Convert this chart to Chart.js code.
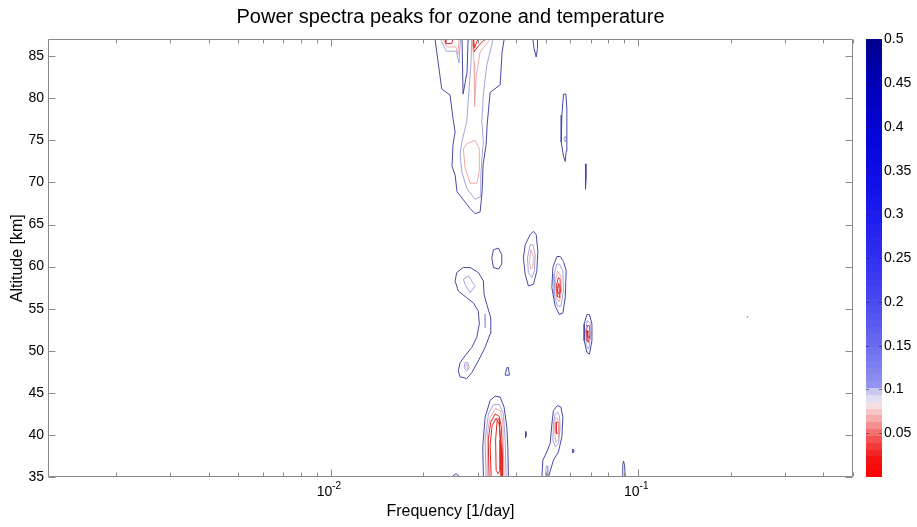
<!DOCTYPE html>
<html>
<head>
<meta charset="utf-8">
<title>Power spectra peaks for ozone and temperature</title>
<script src="https://cdn.jsdelivr.net/npm/chart.js@4.4.1/dist/chart.umd.min.js"></script>
<style>
  html, body { margin: 0; padding: 0; background: #fff; }
</style>
</head>
<body>
<canvas id="spectra" width="917" height="527"></canvas>
<script>
// axis ticks
const freqTicks = [0.01, 0.1];
const altTicks = [35, 40, 45, 50, 55, 60, 65, 70, 75, 80, 85];
const scaleTicks = [0.05, 0.1, 0.15, 0.2, 0.25, 0.3, 0.35, 0.4, 0.45, 0.5];

// contour outlines, points are [frequency (1/day), altitude (km)]
// upper band, 66-87 km
const upperOuter = [[0.02182, 87], [0.02294, 81.1], [0.02441, 80.4], [0.02496, 77.6], [0.02535, 76.0], [0.02496, 74.5], [0.02478, 71.9], [0.02535, 70.9], [0.02573, 68.9], [0.02837, 66.9], [0.02945, 66.3], [0.03058, 66.5], [0.03104, 68.9], [0.03127, 72.1], [0.03199, 74.5], [0.03223, 76.8], [0.03296, 80.7], [0.03553, 81.6], [0.03606, 85.5], [0.03661, 87]];
const upperNotch = [[0.02671, 87], [0.02691, 80.5], [0.02773, 83.1], [0.02795, 87]];
const upperInner = [[0.02874, 87], [0.02852, 83.9], [0.02800, 79.9], [0.02766, 77.2], [0.02665, 74.8], [0.02632, 73.3], [0.02665, 71.3], [0.02766, 69.3], [0.02945, 68.0], [0.03058, 68.3], [0.03074, 70.5], [0.03097, 72.8], [0.03135, 74.8], [0.03097, 77.2], [0.03135, 80.6], [0.03215, 83.9], [0.03335, 86.3], [0.03366, 87]];
const upperPinkLoop = [[0.02766, 74.6], [0.02698, 74.0], [0.02732, 71.7], [0.02837, 69.9], [0.02983, 69.9], [0.03039, 71.3], [0.03039, 74.0], [0.02945, 75.0]];
const upperPinkTongue = [[0.02880, 87], [0.02923, 84.3], [0.02934, 79.0], [0.02967, 82.5], [0.03058, 85.5], [0.03247, 86.7], [0.03296, 87]];
const upperRedRight = [[0.02901, 87], [0.02923, 85.5], [0.03012, 86.2], [0.03151, 86.9], [0.03199, 87]];
const upperRedRight2 = [[0.02912, 87], [0.02934, 86.0], [0.02990, 86.8], [0.03012, 87]];
const upperLeftInner = [[0.02276, 87], [0.02370, 85.6], [0.02560, 85.6], [0.02610, 84.2], [0.02640, 87]];
const upperLeftPink = [[0.02320, 87], [0.02382, 86.1], [0.02550, 86.1], [0.02590, 85.2], [0.02610, 87]];
const upperLeftRed = [[0.02352, 87], [0.02365, 86.5], [0.02470, 86.5], [0.02496, 87]];
const topSpike = [[0.04540, 87], [0.04584, 85.9], [0.04655, 84.9], [0.04700, 85.9], [0.04700, 87]];

// isolated features 69-81 km
const loop77 = [[0.05713, 80.5], [0.05644, 78.0], [0.05615, 74.8], [0.05713, 73.1], [0.05786, 72.5], [0.05829, 73.7], [0.05858, 76.0], [0.05858, 78.8], [0.05816, 80.5]];
const loop77Inner = [[0.05786, 75.5], [0.05743, 75.1], [0.05786, 74.8], [0.05829, 75.1]];
const streak71 = [[0.06738, 72.2], [0.06723, 70.7], [0.06748, 69.2], [0.06775, 70.7], [0.06773, 72.2]];

// middle peaks, 46-64 km
const blob61 = [[0.03378, 62.0], [0.03338, 61.0], [0.03378, 59.9], [0.03507, 59.7], [0.03598, 60.3], [0.03598, 61.4], [0.03507, 62.2]];
const peak61Outer = [[0.04450, 63.8], [0.04286, 62.6], [0.04230, 61.0], [0.04286, 59.1], [0.04392, 57.7], [0.04560, 57.9], [0.04679, 59.5], [0.04714, 61.8], [0.04655, 63.8], [0.04560, 64.2]];
const peak61Inner = [[0.04450, 62.6], [0.04360, 61.0], [0.04392, 59.3], [0.04507, 58.7], [0.04594, 59.5], [0.04620, 61.4], [0.04540, 62.6]];
const peak61Pink = [[0.04474, 62.0], [0.04424, 60.6], [0.04474, 59.7], [0.04540, 59.9], [0.04560, 61.2]];
const peak58Outer = [[0.05437, 61.2], [0.05275, 59.9], [0.05236, 57.5], [0.05368, 55.3], [0.05541, 54.3], [0.05686, 54.5], [0.05786, 56.3], [0.05829, 59.5], [0.05713, 60.6], [0.05573, 61.2]];
const peak58Inner = [[0.05437, 60.3], [0.05326, 59.1], [0.05326, 56.7], [0.05461, 55.3], [0.05603, 55.3], [0.05713, 57.1], [0.05686, 59.5], [0.05541, 60.3]];
const peak58Pink = [[0.05461, 59.5], [0.05380, 58.3], [0.05408, 56.3], [0.05541, 55.8], [0.05628, 57.1], [0.05603, 58.9]];
const peak58Red = [[0.05501, 58.7], [0.05408, 57.7], [0.05437, 56.5], [0.05541, 56.3], [0.05603, 57.5], [0.05573, 58.5]];
const peak58Core = [[0.05501, 58.0], [0.05468, 57.1], [0.05529, 56.7], [0.05557, 57.6]];
const peak52Outer = [[0.06809, 54.3], [0.06671, 53.2], [0.06671, 51.2], [0.06809, 49.8], [0.06940, 49.6], [0.07069, 51.2], [0.07069, 53.2], [0.06940, 54.3]];
const peak52Inner = [[0.06824, 53.6], [0.06748, 52.4], [0.06773, 50.6], [0.06900, 50.2], [0.07006, 51.8], [0.06980, 53.3]];
const peak52Red = [[0.06839, 53.0], [0.06773, 52.4], [0.06809, 51.2], [0.06880, 51.0], [0.06980, 52.0], [0.06925, 53.0]];
const peak52Core = [[0.06849, 52.4], [0.06824, 51.8], [0.06900, 51.5], [0.06925, 52.1]];
const arc53 = [[0.02697, 59.9], [0.02567, 59.3], [0.02535, 58.3], [0.02598, 57.1], [0.02767, 56.3], [0.02907, 55.7], [0.03018, 54.7], [0.03040, 53.2], [0.02983, 51.6], [0.02873, 50.4], [0.02732, 49.4], [0.02632, 48.6], [0.02598, 47.6], [0.02632, 46.9], [0.02767, 46.7], [0.02873, 47.4], [0.03018, 48.8], [0.03175, 50.4], [0.03296, 52.0], [0.03313, 53.9], [0.03216, 55.5], [0.03150, 56.7], [0.03134, 58.3], [0.03018, 59.3], [0.02837, 59.9]];
const arc53Top = [[0.02697, 58.5], [0.02800, 58.9], [0.02945, 57.7], [0.02837, 56.9], [0.02732, 57.9]];
const arc53Dash = [[0.03175, 54.4], [0.03168, 53.6], [0.03175, 52.7], [0.03185, 53.6]];
const arc53Foot = [[0.02732, 48.6], [0.02712, 48.0], [0.02767, 47.6], [0.02822, 48.0], [0.02787, 48.6]];
const arc53FootPink = [[0.02753, 48.4], [0.02743, 48.0], [0.02773, 47.9], [0.02790, 48.3]];
const speck47 = [[0.03736, 48.0], [0.03689, 47.1], [0.03808, 47.1], [0.03780, 48.0]];

// lower peaks, 35-45 km
const peak40Outer = [[0.03134, 35], [0.03120, 38.6], [0.03175, 42.1], [0.03296, 44.1], [0.03422, 44.6], [0.03553, 44.5], [0.03660, 43.3], [0.03736, 40.9], [0.03764, 38.6], [0.03780, 35]];
const peak40Inner = [[0.03199, 35], [0.03175, 39.4], [0.03254, 42.5], [0.03378, 43.6], [0.03533, 43.6], [0.03641, 42.5], [0.03689, 39.4], [0.03717, 35]];
const peak40Pink = [[0.03239, 35], [0.03229, 40.2], [0.03296, 42.1], [0.03422, 43.1], [0.03553, 42.9], [0.03625, 41.7], [0.03641, 38.6], [0.03660, 35]];
const peak40Red = [[0.03270, 35], [0.03250, 39.4], [0.03310, 41.5], [0.03422, 42.5], [0.03530, 42.2], [0.03590, 40.8], [0.03615, 37.6], [0.03620, 35]];
const peak40Red2 = [[0.03321, 35], [0.03296, 38.8], [0.03346, 41.1], [0.03448, 42.0], [0.03527, 41.3], [0.03580, 38.8], [0.03580, 35]];
const peak40Core = [[0.03448, 35.8], [0.03435, 39.4], [0.03474, 41.7], [0.03530, 42.0], [0.03553, 39.4], [0.03553, 35.8], [0.03500, 35.4]];
const peak41Outer = [[0.04858, 35], [0.04894, 37.0], [0.05044, 38.0], [0.05170, 39.0], [0.05236, 41.3], [0.05298, 42.9], [0.05461, 43.5], [0.05603, 43.3], [0.05686, 42.1], [0.05644, 39.8], [0.05501, 38.0], [0.05298, 37.0], [0.05104, 35]];
const peak41Inner = [[0.05368, 42.5], [0.05298, 41.3], [0.05275, 39.4], [0.05368, 38.6], [0.05501, 39.0], [0.05573, 40.9], [0.05541, 42.3], [0.05461, 42.7]];
const peak41Pink = [[0.05368, 42.0], [0.05348, 40.6], [0.05388, 39.1], [0.05490, 39.4], [0.05529, 40.8], [0.05468, 42.0]];
const peak41Red = [[0.05408, 41.5], [0.05408, 40.2], [0.05517, 40.2], [0.05517, 41.5]];
const peak41Foot = [[0.04990, 35], [0.05017, 36.3], [0.05060, 36.3], [0.05080, 35]];
const speck40 = [[0.04309, 40.4], [0.04290, 40.05], [0.04309, 39.7], [0.04330, 40.05]];
const speck38 = [[0.06130, 38.3], [0.06130, 37.9], [0.06190, 38.1]];
const speck54 = [[0.2258, 54.0], [0.2280, 54.05]];
const spike36 = [[0.08873, 35], [0.08906, 36.4], [0.08959, 36.9], [0.09024, 36.4], [0.09077, 35]];
const bump35 = [[0.02472, 35], [0.02554, 35.4], [0.02632, 35]];

// [outline, contour level, closed loop]
const contours = [
  [upperOuter, 'outer', false], [upperNotch, 'outer', false], [upperInner, 'inner', false],
  [upperPinkLoop, 'pink', true], [upperPinkTongue, 'pink', false],
  [upperRedRight, 'red', false], [upperRedRight2, 'red', false],
  [upperLeftInner, 'inner', false], [upperLeftPink, 'pink', false], [upperLeftRed, 'red', false],
  [topSpike, 'outer', false],
  [loop77, 'outer', true], [loop77Inner, 'inner', true], [streak71, 'outer', true],
  [blob61, 'outer', true],
  [peak61Outer, 'outer', true], [peak61Inner, 'inner', true], [peak61Pink, 'pink', true],
  [peak58Outer, 'outer', true], [peak58Inner, 'inner', true], [peak58Pink, 'pink', true],
  [peak58Red, 'red', true], [peak58Core, 'red', true],
  [peak52Outer, 'outer', true], [peak52Inner, 'inner', true], [peak52Red, 'red', true], [peak52Core, 'red', true],
  [arc53, 'outer', true], [arc53Top, 'inner', true], [arc53Dash, 'inner', true],
  [arc53Foot, 'inner', true], [arc53FootPink, 'pink', true],
  [speck47, 'outer', true],
  [peak40Outer, 'outer', false], [peak40Inner, 'inner', false], [peak40Pink, 'pink', false],
  [peak40Red, 'red', false], [peak40Red2, 'red', false], [peak40Core, 'red', true],
  [peak41Outer, 'outer', false], [peak41Inner, 'inner', true], [peak41Pink, 'pink', true],
  [peak41Red, 'red', true], [peak41Foot, 'inner', false],
  [speck40, 'outer', true], [speck38, 'outer', true], [speck54, 'outer', false],
  [spike36, 'outer', false], [bump35, 'outer', false]
];

const FONT = '"Liberation Sans", Arial, Helvetica, sans-serif';
const lineColor = { outer: '#4848a4', inner: '#a4a4de', pink: '#eeaaaa', red: '#e22626' };

// red -> white -> blue map used for the colour bar
const cmapStops = [
  [0.000, 255, 0, 0], [0.020, 244, 18, 18], [0.040, 244, 70, 70], [0.055, 246, 130, 130],
  [0.070, 247, 185, 185], [0.082, 244, 222, 226], [0.090, 222, 222, 244], [0.099, 196, 196, 242],
  [0.101, 150, 150, 240], [0.150, 108, 108, 240], [0.200, 74, 74, 240], [0.250, 48, 48, 240],
  [0.300, 28, 28, 236], [0.350, 12, 12, 228], [0.400, 4, 4, 212], [0.450, 0, 0, 182], [0.500, 0, 0, 140]
];
function colormap(v) {
  for (let i = 1; i < cmapStops.length; i++) {
    const [v1, r1, g1, b1] = cmapStops[i];
    if (v <= v1) {
      const [v0, r0, g0, b0] = cmapStops[i - 1];
      const t = (v - v0) / (v1 - v0);
      return `rgb(${Math.round(r0 + t * (r1 - r0))},${Math.round(g0 + t * (g1 - g0))},${Math.round(b0 + t * (b1 - b0))})`;
    }
  }
  return 'rgb(0,0,140)';
}

const datasets = contours.map(([pts, level, closed]) => {
  const data = pts.map(([f, a]) => ({ x: f, y: a }));
  if (closed) data.push({ x: pts[0][0], y: pts[0][1] });
  return {
    data,
    showLine: true,
    borderColor: lineColor[level],
    borderWidth: 1,
    pointRadius: 0,
    fill: false,
    tension: 0
  };
});

// box, inward ticks, power-of-ten labels and the colour bar
const framePlugin = {
  id: 'frame',
  afterDraw(chart) {
    const { ctx, chartArea: a, scales } = chart;
    const xs = scales.x, ys = scales.y, cb = scales.cb;
    ctx.save();

    // colour bar
    const bx = Math.round(a.right) + 13, bw = 16, steps = 64;
    for (let i = 0; i < steps; i++) {
      const v0 = cb.max * i / steps, v1 = cb.max * (i + 1) / steps;
      const yTop = Math.round(cb.getPixelForValue(v1));
      const yBot = Math.round(cb.getPixelForValue(v0));
      ctx.fillStyle = colormap((v0 + v1) / 2);
      ctx.fillRect(bx, yTop, bw, yBot - yTop);
    }
    ctx.strokeStyle = 'rgba(30,30,60,0.55)';
    ctx.lineWidth = 1;
    scaleTicks.forEach(v => {
      const py = Math.round(cb.getPixelForValue(v)) + 0.5;
      ctx.beginPath();
      ctx.moveTo(bx, py); ctx.lineTo(bx + 3, py);
      ctx.moveTo(bx + bw - 3, py); ctx.lineTo(bx + bw, py);
      ctx.stroke();
    });

    // axes box
    const L = Math.round(a.left) + 0.5, R = Math.round(a.right) - 0.5;
    const T = Math.round(a.top) + 0.5, B = Math.round(a.bottom) - 0.5;
    ctx.strokeStyle = '#8a8a8a';
    ctx.beginPath();
    ctx.rect(L, T, R - L, B - T);
    ctx.stroke();

    // log ticks on bottom and top
    const d0 = Math.floor(Math.log10(xs.min)), d1 = Math.ceil(Math.log10(xs.max));
    ctx.beginPath();
    for (let d = d0; d <= d1; d++) {
      for (let m = 1; m <= 9; m++) {
        const v = m * Math.pow(10, d);
        if (v < xs.min || v > xs.max) continue;
        const px = Math.round(xs.getPixelForValue(v)) + 0.5;
        const len = m === 1 ? 7 : 4;
        ctx.moveTo(px, B); ctx.lineTo(px, B - len);
        ctx.moveTo(px, T); ctx.lineTo(px, T + len);
      }
    }
    altTicks.forEach(v => {
      const py = Math.round(ys.getPixelForValue(v)) + 0.5;
      ctx.moveTo(L, py); ctx.lineTo(L + 7, py);
      ctx.moveTo(R, py); ctx.lineTo(R - 7, py);
    });
    ctx.stroke();

    // 10^n labels
    ctx.fillStyle = '#000';
    ctx.textBaseline = 'alphabetic';
    ctx.textAlign = 'left';
    freqTicks.forEach(v => {
      const px = xs.getPixelForValue(v);
      const base = '10', exp = String(Math.round(Math.log10(v)));
      ctx.font = `14px ${FONT}`;
      const wb = ctx.measureText(base).width;
      ctx.font = `10px ${FONT}`;
      const we = ctx.measureText(exp).width;
      const x0 = px - (wb + we) / 2 - 2;
      const y0 = a.bottom + 19;
      ctx.font = `14px ${FONT}`;
      ctx.fillText(base, x0, y0);
      ctx.font = `10px ${FONT}`;
      ctx.fillText(exp, x0 + wb, y0 - 7);
    });
    ctx.restore();
  }
};

new Chart(document.getElementById('spectra'), {
  type: 'scatter',
  data: { datasets },
  options: {
    responsive: false,
    animation: false,
    events: [],
    layout: { padding: 0 },
    plugins: {
      legend: { display: false },
      tooltip: { enabled: false },
      title: {
        display: true,
        fullSize: false,
        text: 'Power spectra peaks for ozone and temperature',
        color: '#000',
        font: { family: FONT, size: 20, weight: 'normal' },
        padding: { top: 3, bottom: 10 }
      }
    },
    scales: {
      x: {
        type: 'logarithmic',
        position: 'bottom',
        min: 0.0012,
        max: 0.5,
        grid: { display: false, drawTicks: false },
        border: { display: false },
        ticks: { display: false },
        title: {
          display: true,
          text: 'Frequency [1/day]',
          color: '#000',
          font: { family: FONT, size: 16 },
          padding: { top: 0, bottom: 6 }
        },
        afterFit(s) { s.height = 50; }
      },
      y: {
        type: 'linear',
        position: 'left',
        min: 35,
        max: 87,
        afterBuildTicks(s) { s.ticks = altTicks.map(v => ({ value: v })); },
        grid: { display: false, drawTicks: false },
        border: { display: false },
        ticks: { color: '#000', font: { family: FONT, size: 14 }, padding: 4, callback: v => String(v) },
        title: {
          display: true,
          text: 'Altitude [km]',
          color: '#000',
          font: { family: FONT, size: 16 },
          padding: { top: 8, bottom: 0 }
        },
        afterFit(s) { s.width = 48; }
      },
      cb: {
        type: 'linear',
        position: 'right',
        min: 0,
        max: 0.5,
        afterBuildTicks(s) { s.ticks = scaleTicks.map(v => ({ value: v })); },
        grid: { display: false, drawTicks: false },
        border: { display: false },
        ticks: { color: '#000', font: { family: FONT, size: 14 }, padding: 31, callback: v => String(v) },
        afterFit(s) { s.width = 64; }
      }
    }
  },
  plugins: [framePlugin]
});
</script>
</body>
</html>
